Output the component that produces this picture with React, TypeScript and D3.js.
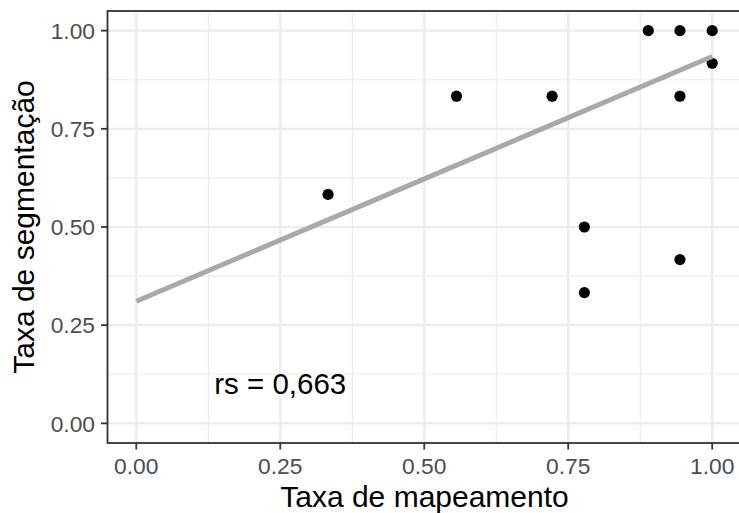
import * as d3 from "d3";

// scatter of the two rates
const mapeamento = [0.333, 0.556, 0.722, 0.889, 0.944, 1.0, 1.0, 0.944, 0.778, 0.778, 0.944];
const segmentacao = [0.583, 0.833, 0.833, 1.0, 1.0, 1.0, 0.917, 0.833, 0.5, 0.333, 0.417];

// fitted line end points
const fitX = [0, 1];
const fitY = [0.311, 0.934];

const majorTicks = [0, 0.25, 0.5, 0.75, 1];
const tickLabels = ["0.00", "0.25", "0.50", "0.75", "1.00"];
const minorTicks = [0.125, 0.375, 0.625, 0.875];

const xTitle = "Taxa de mapeamento";
const yTitle = "Taxa de segmentação";
const note = { x: 0.25, y: 0.1, text: "rs = 0,663" };

const W = 739,
  H = 513;
const font = "'Liberation Sans', Arial, sans-serif";

export default function App() {
  const panel = { left: 107.5, right: 741, top: 11, bottom: 443 };
  const x = d3.scaleLinear().domain([-0.05, 1.05]).range([panel.left, panel.right]);
  const y = d3.scaleLinear().domain([-0.05, 1.05]).range([panel.bottom, panel.top]);

  const line = d3
    .line<number>()
    .x((d) => x(d))
    .y((_, i) => y(fitY[i]));

  const tickLen = 6.5;
  const gridCol = "#EBEBEB";
  const darkCol = "#333333";

  return (
    <svg
      width={W}
      height={H}
      style={{ position: "absolute", left: 0, top: 0, background: "white" }}
    >
      <rect x={0} y={0} width={W} height={H} fill="white" />
      <g>
        {minorTicks.map((t) => (
          <g key={"m" + t}>
            <line x1={x(t)} x2={x(t)} y1={panel.top} y2={panel.bottom} stroke={gridCol} strokeWidth={1.2} />
            <line x1={panel.left} x2={panel.right} y1={y(t)} y2={y(t)} stroke={gridCol} strokeWidth={1.2} />
          </g>
        ))}
        {majorTicks.map((t) => (
          <g key={"M" + t}>
            <line x1={x(t)} x2={x(t)} y1={panel.top} y2={panel.bottom} stroke={gridCol} strokeWidth={2.2} />
            <line x1={panel.left} x2={panel.right} y1={y(t)} y2={y(t)} stroke={gridCol} strokeWidth={2.2} />
          </g>
        ))}
      </g>
      <g>
        {mapeamento.map((v, i) => (
          <circle key={i} cx={x(v)} cy={y(segmentacao[i])} r={5.6} fill="black" />
        ))}
      </g>
      <path d={line(fitX) || ""} fill="none" stroke="#A9A9A9" strokeWidth={5} />
      <text
        x={x(note.x)}
        y={y(note.y)}
        dy="0.35em"
        textAnchor="middle"
        fontFamily={font}
        fontSize={29.5}
        fill="black"
      >
        {note.text}
      </text>
      <rect
        x={panel.left}
        y={panel.top}
        width={panel.right - panel.left}
        height={panel.bottom - panel.top}
        fill="none"
        stroke={darkCol}
        strokeWidth={1.8}
      />
      <g>
        {majorTicks.map((t, i) => (
          <g key={"yt" + t}>
            <line x1={panel.left - tickLen} x2={panel.left} y1={y(t)} y2={y(t)} stroke={darkCol} strokeWidth={1.8} />
            <text
              x={panel.left - tickLen - 6}
              y={y(t)}
              dy="0.36em"
              textAnchor="end"
              fontFamily={font}
              fontSize={22.8}
              fill="#4D4D4D"
            >
              {tickLabels[i]}
            </text>
          </g>
        ))}
        {majorTicks.map((t, i) => (
          <g key={"xt" + t}>
            <line x1={x(t)} x2={x(t)} y1={panel.bottom} y2={panel.bottom + tickLen} stroke={darkCol} strokeWidth={1.8} />
            <text
              x={x(t)}
              y={473.5}
              textAnchor="middle"
              fontFamily={font}
              fontSize={22.8}
              fill="#4D4D4D"
            >
              {tickLabels[i]}
            </text>
          </g>
        ))}
      </g>
      <text
        x={424.5}
        y={506.5}
        textAnchor="middle"
        fontFamily={font}
        fontSize={30}
        fill="black"
      >
        {xTitle}
      </text>
      <text
        transform={`translate(33.5,${(panel.top + panel.bottom) / 2}) rotate(-90)`}
        textAnchor="middle"
        fontFamily={font}
        fontSize={30}
        fill="black"
      >
        {yTitle}
      </text>
    </svg>
  );
}
